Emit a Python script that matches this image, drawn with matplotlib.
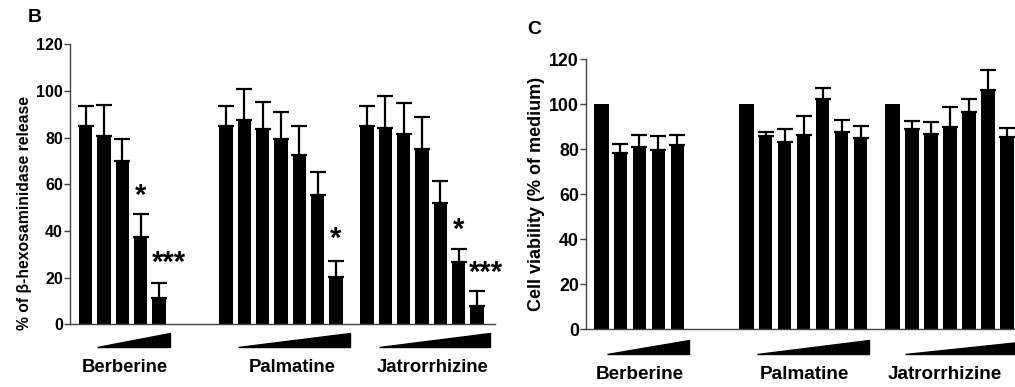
import matplotlib
matplotlib.use("Agg")
import matplotlib.pyplot as plt
import matplotlib.transforms as mtransforms
from matplotlib.patches import Polygon
import numpy as np

plt.rcParams["font.family"] = ["Liberation Sans", "DejaVu Sans"]
plt.rcParams["font.weight"] = "bold"

W, H = 1015, 387

# group names and bar offsets (in bar slots)
GROUPS = ["Berberine", "Palmatine", "Jatrorrhizine"]
GROUP_START = [0.0, 7.65, 15.35]

# panel B: % of beta-hexosaminidase release (mean, upper SEM)
b_ber = [85, 80.9, 69.9, 37.3, 11.4]
b_ber_err = [8.7, 13.1, 9.5, 9.8, 6.5]
b_pal = [85, 87.6, 83.6, 79.4, 72.7, 55.4, 20.4]
b_pal_err = [8.7, 13.1, 11.7, 11.6, 12.3, 9.7, 6.7]
b_jat = [85, 84.3, 81.6, 75.3, 52.1, 26.6, 8.0]
b_jat_err = [8.7, 13.7, 13.4, 13.7, 9.2, 5.8, 6.1]
# significance marks: (group, bar index, y, text, x shift)
b_sig = [(0, 3, 55, "*", 0.0), (0, 4, 26.4, "***", 0.55),
         (1, 6, 36.4, "*", 0.0), (2, 5, 40.4, "*", 0.0),
         (2, 6, 21.9, "***", 0.5)]

# panel C: cell viability (% of medium)
c_ber = [100, 78.2, 81.2, 79.6, 81.9]
c_ber_err = [0, 4.0, 5.2, 6.3, 4.6]
c_pal = [100, 85.9, 83.4, 86.5, 102.2, 87.9, 85.0]
c_pal_err = [0, 1.7, 5.5, 8.3, 5.2, 5.0, 5.2]
c_jat = [100, 89.2, 86.8, 90.1, 96.4, 106.4, 85.6]
c_jat_err = [0, 3.5, 5.2, 8.9, 6.1, 8.7, 4.0]

YTICKS = [0, 20, 40, 60, 80, 100, 120]


def px_axes(x0, y_top, x1, y_bot):
    return [x0 / W, 1 - y_bot / H, (x1 - x0) / W, (y_bot - y_top) / H]


def draw_panel(ax, vals, errs, width, first_width, tick_fs, xlim):
    for g, (v, e) in enumerate(zip(vals, errs)):
        x = GROUP_START[g] + np.arange(len(v))
        wd = [width] * len(v)
        if first_width:
            wd[0] = first_width
        ax.bar(x, v, width=wd, color="black", zorder=2)
        e = np.array(e)
        m = e > 0
        ax.errorbar(x[m], np.array(v)[m], yerr=[np.zeros(m.sum()), e[m]],
                    fmt="none", ecolor="black", elinewidth=1.6,
                    capsize=5.5, capthick=1.6, zorder=1)
    ax.set_xlim(*xlim)
    ax.set_ylim(0, 120)
    ax.set_yticks(YTICKS)
    ax.set_yticklabels([str(t) for t in YTICKS], fontsize=tick_fs,
                       fontweight="bold")
    ax.set_xticks([])
    for s in ["top", "right"]:
        ax.spines[s].set_visible(False)
    for s in ["left", "bottom"]:
        ax.spines[s].set_color("#444444")
        ax.spines[s].set_linewidth(1.0)
    ax.tick_params(axis="y", length=4, width=1, color="#444444", pad=1)


def wedges(ax, spans, ybot, ytop, label_x, label_y, fs):
    tr = mtransforms.blended_transform_factory(ax.transData, ax.transAxes)
    for (x0, x1) in spans:
        ax.add_patch(Polygon([(x0, ybot), (x1, ybot), (x1, ytop)],
                             closed=True, color="black", transform=tr,
                             clip_on=False))
    for name, lx in zip(GROUPS, label_x):
        ax.text(lx, label_y, name, transform=tr, ha="center", va="center",
                fontsize=fs, fontweight="bold")


fig = plt.figure(figsize=(W / 100, H / 100), dpi=100)

# ---- panel B
axb = fig.add_axes(px_axes(70, 44.3, 495, 324.3))
draw_panel(axb, [b_ber, b_pal, b_jat], [b_ber_err, b_pal_err, b_jat_err],
           0.73, None, 11.5, (-0.86, 22.33))
wedges(axb, [(0.6, 4.6), (8.33, 14.42), (15.98, 22.06)], -0.081, -0.032,
       [2.14, 11.27, 18.9], -0.1525, 13.3)
for g, i, y, txt, dx in b_sig:
    axb.text(GROUP_START[g] + i + dx, y, txt, ha="center", va="center",
             fontsize=21, fontweight="bold")

# ---- panel C
axc = fig.add_axes(px_axes(586, 59.3, 586 + 23.2 * 19, 329.3))
draw_panel(axc, [c_ber, c_pal, c_jat], [c_ber_err, c_pal_err, c_jat_err],
           0.70, 0.80, 12.8, (-0.8, 22.4))
wedges(axc, [(0.28, 4.63), (8.21, 14.1), (15.98, 23.0)], -0.09, -0.04,
       [2.04, 10.71, 18.09], -0.1656, 13.6)

# axis titles and panel letters
fig.text(25 / W, 1 - 213 / H, "% of β-hexosaminidase release", rotation=90,
         ha="center", va="center", fontsize=11.3, fontweight="bold")
fig.text(536.7 / W, 1 - 194 / H, "Cell viability (% of medium)", rotation=90,
         ha="center", va="center", fontsize=13, fontweight="bold")
fig.text(35 / W, 1 - 18 / H, "B", ha="center", va="center",
         fontsize=14, fontweight="bold")
fig.text(534 / W, 1 - 30 / H, "C", ha="center", va="center",
         fontsize=14, fontweight="bold")

fig.savefig("out.png", dpi=100)
